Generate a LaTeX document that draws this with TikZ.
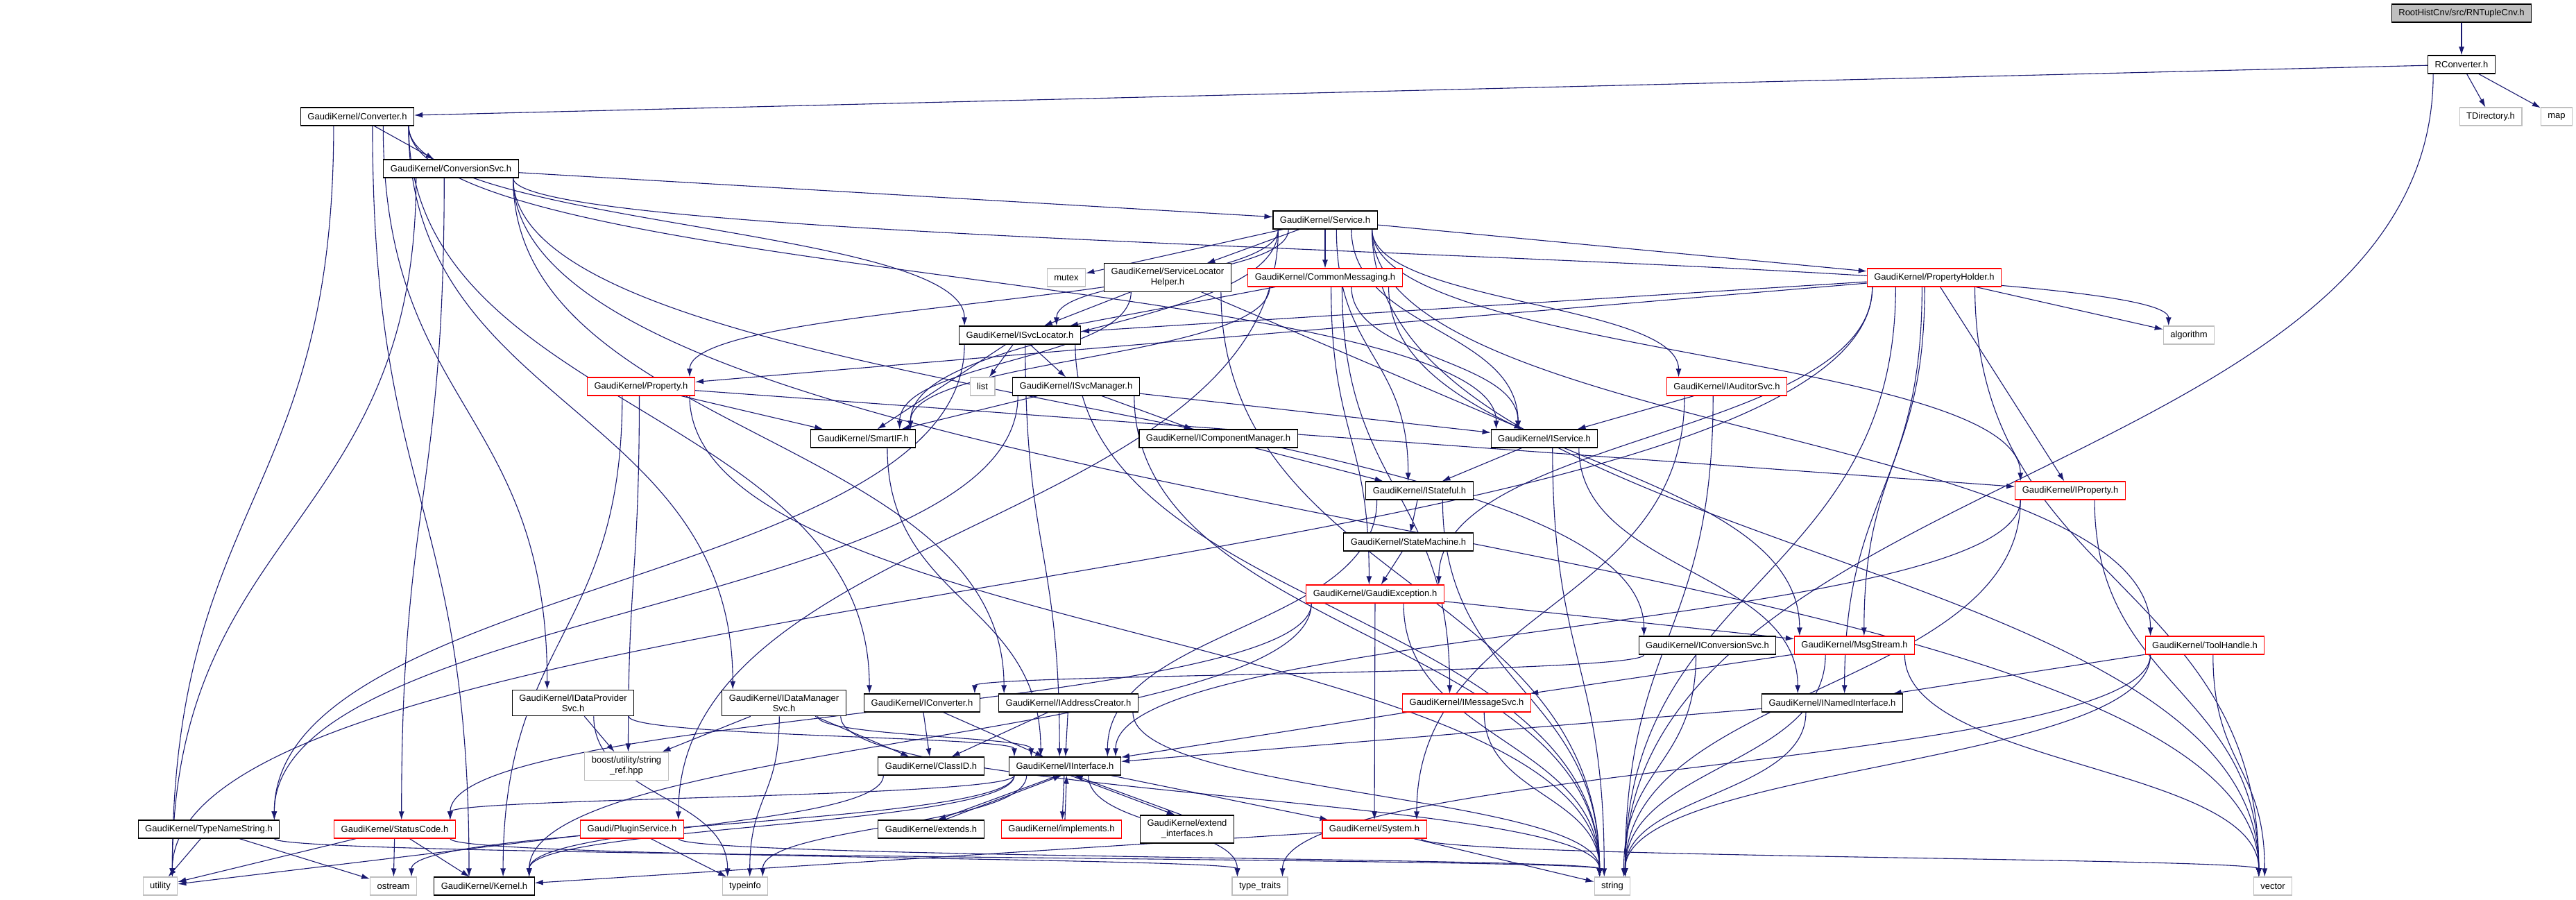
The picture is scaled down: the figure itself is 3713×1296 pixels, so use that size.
\documentclass[tikz,border=0pt]{standalone}
\usepackage{fontspec}
\setmainfont{Liberation Sans}
\usetikzlibrary{arrows.meta,backgrounds,calc}
\definecolor{edgeblue}{HTML}{191970}
\definecolor{sysgray}{HTML}{BFBFBF}
\tikzset{
  hdr/.style={draw=black, line width=1.1pt, fill=white, inner xsep=10pt, inner ysep=6.5pt, minimum height=26pt, align=center},
  redhdr/.style={hdr, draw=red},
  syshdr/.style={hdr, draw=sysgray},
  roothdr/.style={hdr, fill=sysgray},
  dep/.style={draw=edgeblue, line width=1.1pt, -{Latex[length=12pt,width=8pt]}},
  sdrop/.style={to path={let \p0=(\tikztostart.center), \p3=(\tikztotarget.center),
    \p4=(\tikztostart.south west), \p5=(\tikztostart.south east),
    \p6=(\tikztotarget.north west), \p7=(\tikztotarget.north east),
    \n1={max(\x4+8pt, min(\x5-8pt, \x0+0.12*(\x3-\x0)))},
    \n2={max(\x6+8pt, min(\x7-8pt, \x3+0.12*(\x0-\x3)))},
    \n3={0.5*\y4+0.5*\y6} in
    (\n1,\y4) .. controls (\n1,\n3) and (\n2,\n3) .. (\n2,\y6) \tikztonodes}}
}
\begin{document}
\begin{tikzpicture}[x=1pt, y=-1pt, font=\fontsize{13pt}{15pt}\selectfont]
\useasboundingbox (0,0) rectangle (3713,1296);
\node[roothdr] (rntuple) at (3548,19) {RootHistCnv/src/RNTupleCnv.h};
\node[hdr] (rconv) at (3548,93) {RConverter.h};
\node[syshdr] (tdir) at (3590,168) {TDirectory.h};
\node[syshdr] (map) at (3685,168) {map};
\node[hdr] (conv) at (515,168) {GaudiKernel/Converter.h};
\node[hdr] (convsvc) at (650,243) {GaudiKernel/ConversionSvc.h};
\node[hdr] (service) at (1910,317) {GaudiKernel/Service.h};
\node[syshdr] (mutex) at (1537,400) {mutex};
\node[hdr] (slh) at (1683,400) {GaudiKernel/ServiceLocator\\Helper.h};
\node[redhdr] (cmsg) at (1910,400) {GaudiKernel/CommonMessaging.h};
\node[redhdr] (pholder) at (2788,400) {GaudiKernel/PropertyHolder.h};
\node[hdr] (isvcloc) at (1470,483) {GaudiKernel/ISvcLocator.h};
\node[syshdr] (algorithm) at (3155,483) {algorithm};
\node[redhdr] (property) at (924,557) {GaudiKernel/Property.h};
\node[syshdr] (list) at (1416,557) {list};
\node[hdr] (isvcmgr) at (1551,557) {GaudiKernel/ISvcManager.h};
\node[redhdr] (iauditor) at (2489,557) {GaudiKernel/IAuditorSvc.h};
\node[hdr] (smartif) at (1244,632) {GaudiKernel/SmartIF.h};
\node[hdr] (icompmgr) at (1756,632) {GaudiKernel/IComponentManager.h};
\node[hdr] (iservice) at (2226,632) {GaudiKernel/IService.h};
\node[hdr] (istateful) at (2046,707) {GaudiKernel/IStateful.h};
\node[redhdr] (iproperty) at (2984,707) {GaudiKernel/IProperty.h};
\node[hdr] (statemachine) at (2030,781) {GaudiKernel/StateMachine.h};
\node[redhdr] (gexception) at (1982,856) {GaudiKernel/GaudiException.h};
\node[hdr] (iconvsvc) at (2461,930) {GaudiKernel/IConversionSvc.h};
\node[redhdr] (msgstream) at (2673,930) {GaudiKernel/MsgStream.h};
\node[redhdr] (toolhandle) at (3178,930) {GaudiKernel/ToolHandle.h};
\node[hdr] (idataprov) at (826,1013) {GaudiKernel/IDataProvider\\Svc.h};
\node[hdr] (idatamgr) at (1130,1013) {GaudiKernel/IDataManager\\Svc.h};
\node[hdr] (iconverter) at (1329,1013) {GaudiKernel/IConverter.h};
\node[hdr] (iaddr) at (1540,1013) {GaudiKernel/IAddressCreator.h};
\node[redhdr] (imsgsvc) at (2114,1013) {GaudiKernel/IMessageSvc.h};
\node[hdr] (inamed) at (2641,1013) {GaudiKernel/INamedInterface.h};
\node[syshdr] (boost) at (903,1104) {boost/utility/string\\\_ref.hpp};
\node[hdr] (classid) at (1342,1104) {GaudiKernel/ClassID.h};
\node[hdr] (iinterface) at (1535,1104) {GaudiKernel/IInterface.h};
\node[hdr] (typename) at (301,1195) {GaudiKernel/TypeNameString.h};
\node[redhdr] (statuscode) at (569,1195) {GaudiKernel/StatusCode.h};
\node[redhdr] (plugin) at (911,1195) {Gaudi/PluginService.h};
\node[hdr] (extends) at (1342,1195) {GaudiKernel/extends.h};
\node[redhdr] (implements) at (1530,1195) {GaudiKernel/implements.h};
\node[hdr] (extendif) at (1711,1195) {GaudiKernel/extend\\\_interfaces.h};
\node[redhdr] (system) at (1981,1195) {GaudiKernel/System.h};
\node[syshdr] (utility) at (231,1277) {utility};
\node[syshdr] (ostream) at (567,1277) {ostream};
\node[hdr] (kernel) at (698,1277) {GaudiKernel/Kernel.h};
\node[syshdr] (typeinfo) at (1074,1277) {typeinfo};
\node[syshdr] (typetraits) at (1816,1277) {type\_traits};
\node[syshdr] (string) at (2324,1277) {string};
\node[syshdr] (vector) at (3276,1277) {vector};
\begin{pgfonlayer}{background}
\draw[dep] (rntuple) -- (rconv);
\draw[dep] (rconv) -- (conv);
\draw[dep] (rconv) -- (tdir);
\draw[dep] (rconv) -- (map);
\draw[dep] (rconv) to[sdrop] (string);
\draw[dep] (conv) -- (convsvc);
\draw[dep] (conv) to[sdrop] (isvcloc);
\draw[dep] (conv) to[sdrop] (iservice);
\draw[dep] (conv) to[sdrop] (idatamgr);
\draw[dep] (conv) to[sdrop] (idataprov);
\draw[dep] (conv) to[sdrop] (iconverter);
\draw[dep] (conv) to[sdrop] (kernel);
\draw[dep] (conv) to[sdrop] (utility);
\draw[dep] (convsvc) -- (service);
\draw[dep] (convsvc) to[sdrop] (iconvsvc);
\draw[dep] (convsvc) to[sdrop] (iaddr);
\draw[dep] (convsvc) to[sdrop] (algorithm);
\draw[dep] (convsvc) to[sdrop] (vector);
\draw[dep] (convsvc) to[sdrop] (utility);
\draw[dep] (convsvc) to[sdrop] (statuscode);
\draw[dep] (service) -- (mutex);
\draw[dep] (service) -- (slh);
\draw[dep] (service) -- (cmsg);
\draw[dep] (service) -- (pholder);
\draw[dep] (service) to[sdrop] (iauditor);
\draw[dep] (service) to[sdrop] (iservice);
\draw[dep] (service) to[sdrop] (istateful);
\draw[dep] (service) to[sdrop] (iproperty);
\draw[dep] (service) to[sdrop] (toolhandle);
\draw[dep] (service) to[sdrop] (isvcloc);
\draw[dep] (service) to[sdrop] (smartif);
\draw[dep] (service) to[sdrop] (property);
\draw[dep] (service) to[sdrop] (plugin);
\draw[dep] (service) to[sdrop] (vector);
\draw[dep] (slh) -- (isvcloc);
\draw[dep] (slh) -- (iservice);
\draw[dep] (slh) to[sdrop] (smartif);
\draw[dep] (slh) to[sdrop] (string);
\draw[dep] (cmsg) -- (isvcloc);
\draw[dep] (cmsg) to[sdrop] (smartif);
\draw[dep] (cmsg) to[sdrop] (iservice);
\draw[dep] (cmsg) to[sdrop] (gexception);
\draw[dep] (cmsg) to[sdrop] (imsgsvc);
\draw[dep] (cmsg) to[sdrop] (msgstream);
\draw[dep] (pholder) -- (isvcloc);
\draw[dep] (pholder) -- (property);
\draw[dep] (pholder) to[sdrop] (utility);
\draw[dep] (pholder) -- (iproperty);
\draw[dep] (pholder) -- (algorithm);
\draw[dep] (pholder) to[sdrop] (msgstream);
\draw[dep] (pholder) to[sdrop] (inamed);
\draw[dep] (pholder) to[sdrop] (gexception);
\draw[dep] (pholder) to[sdrop] (string);
\draw[dep] (pholder) to[sdrop] (vector);
\draw[dep] (isvcloc) -- (list);
\draw[dep] (isvcloc) -- (isvcmgr);
\draw[dep] (isvcloc) -- (smartif);
\draw[dep] (isvcloc) to[sdrop] (iinterface);
\draw[dep] (isvcloc) to[sdrop] (typename);
\draw[dep] (isvcloc) to[sdrop] (string);
\draw[dep] (property) -- (smartif);
\draw[dep] (property) -- (iproperty);
\draw[dep] (property) to[sdrop] (string);
\draw[dep] (property) to[sdrop] (boost);
\draw[dep] (property) to[sdrop] (kernel);
\draw[dep] (isvcmgr) -- (smartif);
\draw[dep] (isvcmgr) -- (icompmgr);
\draw[dep] (isvcmgr) -- (iservice);
\draw[dep] (isvcmgr) to[sdrop] (typename);
\draw[dep] (isvcmgr) to[sdrop] (string);
\draw[dep] (iauditor) -- (iservice);
\draw[dep] (iauditor) to[sdrop] (system);
\draw[dep] (iauditor) to[sdrop] (string);
\draw[dep] (smartif) to[sdrop] (iinterface);
\draw[dep] (icompmgr) -- (istateful);
\draw[dep] (iservice) -- (istateful);
\draw[dep] (iservice) to[sdrop] (inamed);
\draw[dep] (iservice) to[sdrop] (string);
\draw[dep] (istateful) -- (statemachine);
\draw[dep] (istateful) to[sdrop] (iinterface);
\draw[dep] (istateful) to[sdrop] (string);
\draw[dep] (iproperty) to[sdrop] (iinterface);
\draw[dep] (iproperty) to[sdrop] (string);
\draw[dep] (iproperty) to[sdrop] (vector);
\draw[dep] (statemachine) -- (gexception);
\draw[dep] (gexception) -- (msgstream);
\draw[dep] (gexception) -- (system);
\draw[dep] (gexception) to[sdrop] (string);
\draw[dep] (gexception) to[sdrop] (statuscode);
\draw[dep] (gexception) to[sdrop] (kernel);
\draw[dep] (iconvsvc) to[sdrop] (iconverter);
\draw[dep] (iconvsvc) to[sdrop] (string);
\draw[dep] (msgstream) -- (imsgsvc);
\draw[dep] (msgstream) to[sdrop] (string);
\draw[dep] (msgstream) to[sdrop] (vector);
\draw[dep] (toolhandle) -- (inamed);
\draw[dep] (toolhandle) to[sdrop] (typetraits);
\draw[dep] (toolhandle) to[sdrop] (string);
\draw[dep] (toolhandle) to[sdrop] (vector);
\draw[dep] (idataprov) -- (boost);
\draw[dep] (idataprov) to[sdrop] (iinterface);
\draw[dep] (idataprov) to[sdrop] (typeinfo);
\draw[dep] (idatamgr) -- (boost);
\draw[dep] (idatamgr) -- (classid);
\draw[dep] (idatamgr) to[sdrop] (iinterface);
\draw[dep] (idatamgr) to[sdrop] (typeinfo);
\draw[dep] (idatamgr) to[sdrop] (string);
\draw[dep] (iconverter) -- (classid);
\draw[dep] (iconverter) -- (iinterface);
\draw[dep] (iaddr) -- (classid);
\draw[dep] (iaddr) -- (iinterface);
\draw[dep] (iaddr) to[sdrop] (string);
\draw[dep] (imsgsvc) -- (iinterface);
\draw[dep] (imsgsvc) to[sdrop] (string);
\draw[dep] (inamed) -- (iinterface);
\draw[dep] (inamed) to[sdrop] (string);
\draw[dep] (classid) to[sdrop] (kernel);
\draw[dep] (iinterface) to[sdrop] (kernel);
\draw[dep] (iinterface) to[sdrop] (statuscode);
\draw[dep] (iinterface) -- (system);
\draw[dep] (iinterface.-125) -- (extends.55);
\draw[dep] (extends.35) -- (iinterface.-110);
\draw[dep] (iinterface.-95) -- (implements.85);
\draw[dep] (implements.70) -- (iinterface.-80);
\draw[dep] (iinterface.-60) -- (extendif.130);
\draw[dep] (extendif.110) -- (iinterface.-45);
\draw[dep] (iinterface) to[sdrop] (typetraits);
\draw[dep] (iinterface) to[sdrop] (typeinfo);
\draw[dep] (iinterface) to[sdrop] (ostream);
\draw[dep] (typename) -- (utility);
\draw[dep] (typename) -- (ostream);
\draw[dep] (typename) to[sdrop] (string);
\draw[dep] (statuscode) -- (utility);
\draw[dep] (statuscode) -- (ostream);
\draw[dep] (statuscode) -- (kernel);
\draw[dep] (statuscode) to[sdrop] (typetraits);
\draw[dep] (plugin) -- (utility);
\draw[dep] (plugin) -- (typeinfo);
\draw[dep] (plugin) to[sdrop] (string);
\draw[dep] (system) -- (kernel);
\draw[dep] (system) -- (string);
\draw[dep] (system) to[sdrop] (vector);
\end{pgfonlayer}
\end{tikzpicture}
\end{document}
